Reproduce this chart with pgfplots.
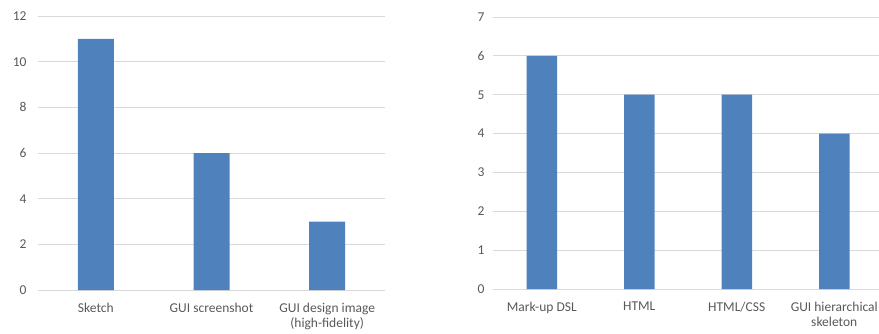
\documentclass[border=0pt]{standalone}
\usepackage{fontspec}
\setmainfont{Carlito}
\usepackage{pgfplots}
\pgfplotsset{compat=1.18}

\definecolor{barblue}{HTML}{4F81BD}
\definecolor{gridgray}{HTML}{D9D9D9}
\definecolor{labelgray}{HTML}{595959}

\pgfplotsset{
  excelbars/.style={
    scale only axis,
    anchor=south west,
    ymin=0,
    xtick={0,1,2,3},
    ymajorgrids,
    grid style={gridgray, line width=0.9pt},
    axis line style={draw=none},
    tick style={draw=none},
    /pgf/number format/assume math mode=true,
    tick label style={font=\fontsize{13.5}{15}\selectfont, text=labelgray},
    xticklabel style={align=center, anchor=north, yshift=-9.5pt},
    clip=false,
  },
}

\begin{document}
\begin{tikzpicture}
\useasboundingbox (0pt,0pt) rectangle (879pt,333pt);

% left panel: input types
\begin{axis}[
  excelbars,
  at={(38pt,43pt)},
  width=347pt, height=274pt,
  xmin=-0.5, xmax=2.5,
  ymax=12, ytick={0,2,...,12},
  yticklabel style={xshift=-8pt},
  xticklabels={Sketch, GUI screenshot, {GUI design image\\(high-fidelity)}},
]
\addplot[ybar, bar width=36pt, fill=barblue, draw=none]
  coordinates {(0,11) (1,6) (2,3)};
\end{axis}

% right panel: output representations
\begin{axis}[
  excelbars,
  at={(493pt,44pt)},
  width=390pt, height=272pt,
  xmin=-0.5, xmax=3.5,
  ymax=7, ytick={0,1,...,7},
  yticklabel style={xshift=-5pt},
  xticklabels={Mark-up DSL, HTML, HTML/CSS, {GUI hierarchical\\skeleton}},
]
\addplot[ybar, bar width=30.5pt, fill=barblue, draw=none]
  coordinates {(0,6) (1,5) (2,5) (3,4)};
\end{axis}
\end{tikzpicture}
\end{document}
